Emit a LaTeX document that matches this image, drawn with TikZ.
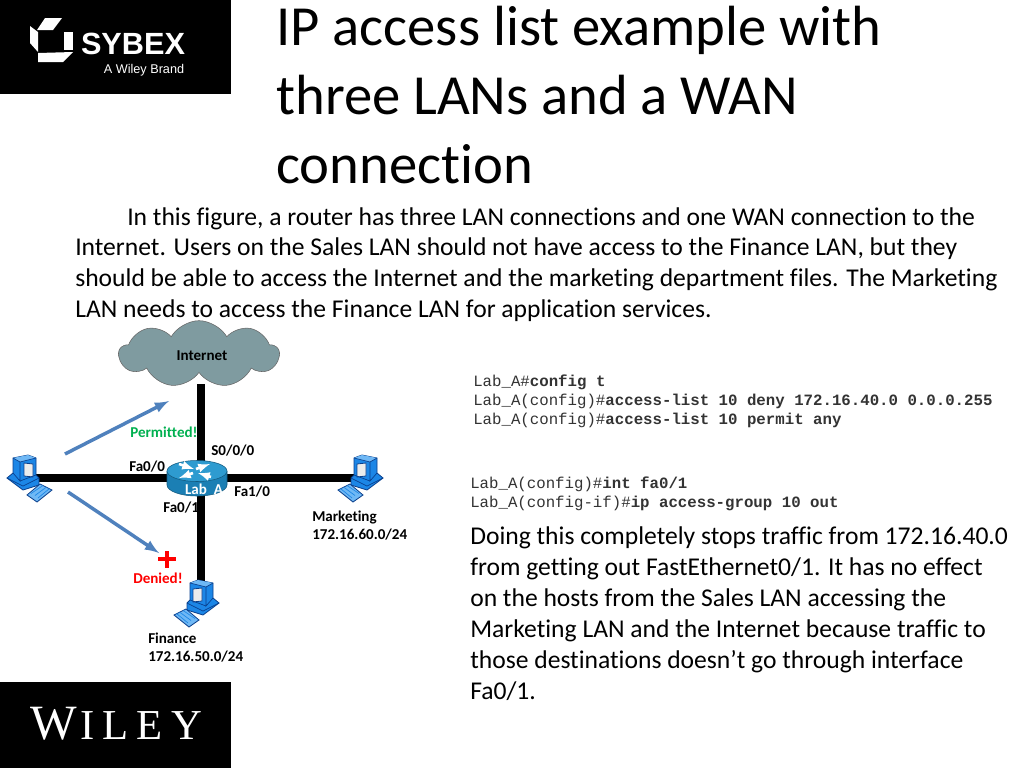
\documentclass[tikz,border=0pt]{standalone}
\usepackage{fontspec}
\setmainfont{Carlito}[Ligatures=NoCommon]
\setmonofont{Liberation Mono}
\newfontfamily\logosans{Liberation Sans}
\newfontfamily\logoserif{Liberation Serif}
\usetikzlibrary{shapes.symbols}
\tikzset{>=latex}
\definecolor{cloudgray}{HTML}{7F9BA0}
\definecolor{routerblue}{HTML}{1B7FB4}
\definecolor{routertop}{HTML}{2E9BD0}
\definecolor{pcblue}{HTML}{1C86E6}
\definecolor{pcdark}{HTML}{0A3F8C}
\definecolor{pclight}{HTML}{6FB8F5}
\definecolor{flowblue}{HTML}{4F81BD}
\definecolor{permitgreen}{HTML}{00B050}
\tikzset{
  pics/pcicon/.style={code={
    \draw[pcdark,fill=pcblue,line width=.6pt] (-14,-20)--(1,-23)--(9,-20)--(9,-3)--(12,0)--(12,7)--(-4,12)--(-20,0)--(-14,-5)--cycle;
    \fill[pclight] (-14,-20)--(1,-23)--(9,-20)--(-7,-16)--cycle;
    \draw[pcdark,fill=white!85!gray,line width=.6pt] (-3,-15)--(6,-14)--(6,-1)--(-3,-2)--cycle;
    \draw[pcdark,line width=.5pt] (-14,-20)--(-7,-16)--(-7,3)--(-14,-5) (-7,3)--(9,-3) (-7,-16)--(9,-20) (-20,0)--(-4,8)--(12,0);
    \draw[pcdark,fill=pclight,line width=.6pt] (0,17)--(13,6)--(25,12)--(10,24)--cycle;
    \draw[pcblue,line width=.5pt] (4,15.5)--(16,7.5) (8,17.5)--(19.5,9) (11,20)--(22.5,10.5);
  }},
  pics/routericon/.style={code={
    \draw[routerblue!70!black,fill=routerblue,line width=.4pt] (-30,-7) -- (-30,7) arc[start angle=180,end angle=0,x radius=30,y radius=11] -- (30,-7);
    \draw[routerblue!70!black,fill=routertop,line width=.4pt] (0,-7) ellipse[x radius=30,y radius=10.5];
    \draw[white,->,line width=2pt] (-18,-14)--(-3,-9);
    \draw[white,->,line width=2pt] (14,-1)--(1,-5);
    \draw[white,->,line width=2pt] (-4,-5)--(-18,0);
    \draw[white,->,line width=2pt] (-1,-9)--(13,-14);
  }}
}
\begin{document}
\begin{tikzpicture}[x=.75pt,y=-.75pt]
  \tikzstyle{titletext}=[anchor=north west,inner sep=0,align=left,font=\fontsize{42.5}{51.75}\selectfont];
  \tikzstyle{bodytext}=[anchor=north west,inner sep=0,align=left,font=\fontsize{19.2}{23.25}\selectfont];
  \tikzstyle{introtext}=[anchor=north west,inner sep=0,align=left,font=\fontsize{19.2}{23}\selectfont];
  \tikzstyle{codetext}=[anchor=north west,inner sep=0,align=left,text=black!80,font=\ttfamily\fontsize{11.8}{14.25}\selectfont];
  \tikzstyle{netlabel}=[anchor=west,inner sep=0,align=left,font=\bfseries\fontsize{11.3}{13.5}\selectfont];
  \tikzstyle{link}=[line width=5.5pt];
  \tikzstyle{flow}=[flowblue,line width=2.6pt,->];
  \useasboundingbox (0,0) rectangle (1024,768);
  \fill[white] (0,0) rectangle (1024,768);
  % logos
  \fill[black] (0,0) rectangle (231,94);
  \fill[white] (45,18)--(62,18)--(53,30)--(37,30)--cycle;
  \fill[white] (30,26)--(38,32)--(38,52)--(30,43)--cycle;
  \fill[white] (64,32)--(73,32)--(73,50)--(64,50)--cycle;
  \fill[white] (38,53)--(73,52)--(63,62)--(38,62)--cycle;
  \node[white,inner sep=0,font=\logosans\bfseries\fontsize{23}{23}\selectfont] (sybex) at (133,44) {SYBEX};
  \node[white,inner sep=0,font=\logosans\fontsize{9.5}{11}\selectfont] (brand) at (144,70) {A Wiley Brand};
  \fill[black] (0,682) rectangle (231,768);
  \node[white,inner sep=0,font=\logoserif\fontsize{32}{32}\selectfont] (wiley) at (116,724) {{\fontsize{37}{37}\selectfont W}\kern3pt I\kern6pt L\kern6pt E\kern6pt Y};
  % text
  \node[titletext] (title) at (276,6) {IP access list example with\\three LANs and a WAN\\connection};
  \node[introtext] (intro) at (75,207) {\hspace*{39pt}In this figure, a router has three LAN connections and one WAN connection to the\\Internet. Users on the Sales LAN should not have access to the Finance LAN, but they\\should be able to access the Internet and the marketing department files. The Marketing\\LAN needs to access the Finance LAN for application services.};
  \node[codetext] (acl) at (473,375) {Lab\_A\#\textbf{config t}\\Lab\_A(config)\#\textbf{access-list 10 deny 172.16.40.0 0.0.0.255}\\Lab\_A(config)\#\textbf{access-list 10 permit any}};
  \node[codetext] (iface) at (470,477) {Lab\_A(config)\#\textbf{int fa0/1}\\Lab\_A(config-if)\#\textbf{ip access-group 10 out}};
  \node[bodytext] (effect) at (470,526) {Doing this completely stops traffic from 172.16.40.0\\from getting out FastEthernet0/1. It has no effect\\on the hosts from the Sales LAN accessing the\\Marketing LAN and the Internet because traffic to\\those destinations doesn’t go through interface\\Fa0/1.};
  % network
  \coordinate (router) at (201,478);
  \coordinate (sales) at (27,478);
  \coordinate (marketing) at (360,478);
  \coordinate (finance) at (201,596);
  \coordinate (inetfoot) at (201,384);
  \node[cloud,cloud puffs=9,cloud puff arc=120,aspect=2.4,draw=black!60,fill=cloudgray,minimum width=120pt,minimum height=50pt,inner sep=0] (internet) at (199,354) {};
  \draw[link] (inetfoot)--(router);
  \draw[link] (sales)--(marketing);
  \draw[link] (router)--(finance);
  \node[inner sep=0,font=\bfseries\fontsize{11.3}{13}\selectfont] (inetlabel) at (202,356) {Internet};
  \pic at (sales) {pcicon};
  \pic[xscale=-1] at (363,478) {pcicon};
  \pic[xscale=-1] at (199,603) {pcicon};
  \pic at (197,478) {routericon};
  \node[white,inner sep=0,font=\bfseries\fontsize{11.3}{13}\selectfont] (routername) at (204,489) {Lab\ \ A};
  \coordinate (flowstart) at (65,454);
  \coordinate (flowok) at (169,401);
  \coordinate (denystart) at (68,492);
  \coordinate (flowno) at (159,553);
  \draw[flow] (flowstart)--(flowok);
  \draw[flow] (denystart)--(flowno);
  \draw[red,line width=3.2pt] (167,551)--(167,568) (158,559)--(176,559);
  \node[netlabel,text=permitgreen] (permitted) at (130,432) {Permitted!};
  \node[netlabel,text=red] (denied) at (133,578) {Denied!};
  \node[netlabel] (s000) at (211,451) {S0/0/0};
  \node[netlabel] (fa00) at (129,467) {Fa0/0};
  \node[netlabel] (fa10) at (234,492) {Fa1/0};
  \node[netlabel] (fa01) at (163,508) {Fa0/1};
  \node[netlabel] (mktlabel) at (312,526) {Marketing\\172.16.60.0/24};
  \node[netlabel] (finlabel) at (148,648) {Finance\\172.16.50.0/24};
\end{tikzpicture}
\end{document}
